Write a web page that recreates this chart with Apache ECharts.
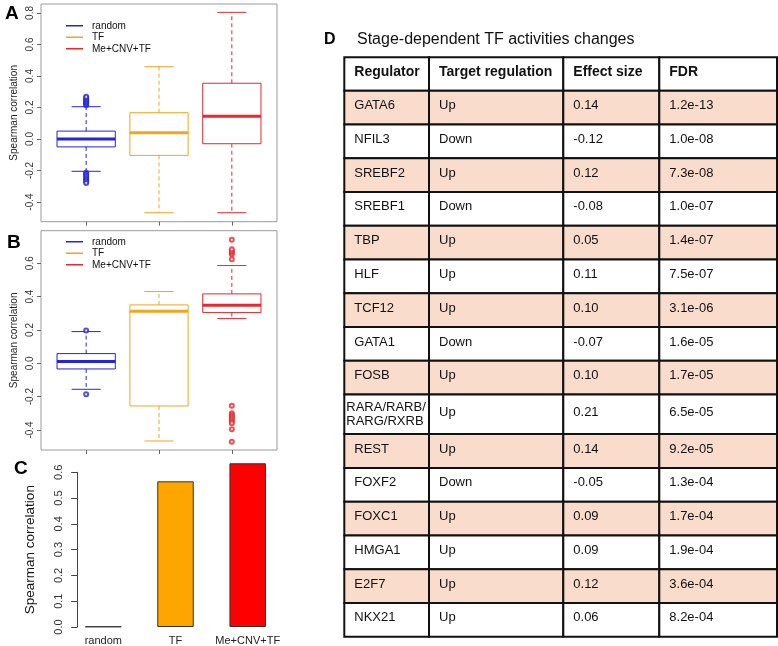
<!DOCTYPE html>
<html>
<head>
<meta charset="utf-8">
<script src="https://cdn.jsdelivr.net/npm/echarts@6/dist/echarts.min.js"></script>
<style>
html,body{margin:0;padding:0;background:#fff;}
#chart{width:778px;height:646px;}
</style>
</head>
<body>
<div id="chart"></div>
<script>
// ---------------- data ----------------
const groups = ['random', 'TF', 'Me+CNV+TF'];

// box statistics [lower whisker, Q1, median, Q3, upper whisker]
const statsA = [
  [-0.205, -0.05, 0.0, 0.05, 0.205],
  [-0.468, -0.104, 0.04, 0.167, 0.459],
  [-0.468, -0.03, 0.144, 0.354, 0.804]
];
const outliersA = [
  [0.215, 0.222, 0.23, 0.237, 0.245, 0.252, 0.26, 0.268, -0.215, -0.222, -0.23, -0.24, -0.25, -0.26, -0.27, -0.28],
  [],
  []
];
const statsB = [
  [-0.156, -0.034, 0.01, 0.058, 0.19],
  [-0.466, -0.256, 0.312, 0.35, 0.43],
  [0.268, 0.304, 0.348, 0.416, 0.586]
];
const outliersB = [
  [0.197, -0.185],
  [],
  [0.624, 0.654, 0.664, 0.674, 0.684, 0.74, -0.255, -0.30, -0.31, -0.32, -0.33, -0.34, -0.35, -0.36, -0.395, -0.47]
];
const ticksA = [-0.4, -0.2, 0.0, 0.2, 0.4, 0.6, 0.8];
const ticksB = [-0.4, -0.2, 0.0, 0.2, 0.4, 0.6];

// panel C
const barValues = [0.002, 0.565, 0.635];
const ticksC = [0.0, 0.1, 0.2, 0.3, 0.4, 0.5, 0.6];

// panel D table
const tableHeaders = ['Regulator', 'Target regulation', 'Effect size', 'FDR'];
const regulators = ['GATA6', 'NFIL3', 'SREBF2', 'SREBF1', 'TBP', 'HLF', 'TCF12', 'GATA1', 'FOSB',
  'RARA/RARB/\nRARG/RXRB', 'REST', 'FOXF2', 'FOXC1', 'HMGA1', 'E2F7', 'NKX21'];
const targetRegulation = ['Up', 'Down', 'Up', 'Down', 'Up', 'Up', 'Up', 'Down', 'Up', 'Up', 'Up', 'Down', 'Up', 'Up', 'Up', 'Up'];
const effectSize = [0.14, -0.12, 0.12, -0.08, 0.05, 0.11, 0.10, -0.07, 0.10, 0.21, 0.14, -0.05, 0.09, 0.09, 0.12, 0.06];
const fdr = ['1.2e-13', '1.0e-08', '7.3e-08', '1.0e-07', '1.4e-07', '7.5e-07', '3.1e-06', '1.6e-05', '1.7e-05',
  '6.5e-05', '9.2e-05', '1.3e-04', '1.7e-04', '1.9e-04', '3.6e-04', '8.2e-04'];

// ---------------- styling ----------------
const FONT = '"Liberation Sans", Arial, Helvetica, sans-serif';
const colors = ['#2424dc', '#f5a41e', '#e8282c'];
const barColors = ['#ffffff', '#ffa500', '#ff0000'];

function boxRender(color) {
  return function (params, api) {
    const x = api.value(0);
    const mn = api.value(1), q1 = api.value(2), md = api.value(3), q3 = api.value(4), mx = api.value(5);
    const cx = api.coord([x, md])[0];
    const hw = api.size([0.4, 0])[0];
    const cw = api.size([0.2, 0])[0];
    const yMn = api.coord([x, mn])[1], yQ1 = api.coord([x, q1])[1], yMd = api.coord([x, md])[1];
    const yQ3 = api.coord([x, q3])[1], yMx = api.coord([x, mx])[1];
    const dash = { stroke: color, lineWidth: 1, lineDash: [4, 3] };
    const solid = { stroke: color, lineWidth: 1 };
    return {
      type: 'group',
      children: [
        { type: 'line', shape: { x1: cx, y1: yQ3, x2: cx, y2: yMx }, style: dash },
        { type: 'line', shape: { x1: cx, y1: yQ1, x2: cx, y2: yMn }, style: dash },
        { type: 'line', shape: { x1: cx - cw, y1: yMx, x2: cx + cw, y2: yMx }, style: solid },
        { type: 'line', shape: { x1: cx - cw, y1: yMn, x2: cx + cw, y2: yMn }, style: solid },
        { type: 'rect', shape: { x: cx - hw, y: yQ3, width: 2 * hw, height: yQ1 - yQ3 }, style: { fill: 'rgba(255,255,255,0)', stroke: color, lineWidth: 1 } },
        { type: 'line', shape: { x1: cx - hw, y1: yMd, x2: cx + hw, y2: yMd }, style: { stroke: color, lineWidth: 3 } }
      ]
    };
  };
}

function boxPanelSeries(stats, outs, gi) {
  const s = [];
  groups.forEach(function (g, i) {
    s.push({
      type: 'custom', name: g, xAxisIndex: gi, yAxisIndex: gi,
      itemStyle: { color: colors[i] },
      renderItem: boxRender(colors[i]),
      encode: { x: 0, y: [1, 2, 3, 4, 5] },
      data: [[i + 1].concat(stats[i])],
      silent: true
    });
    s.push({
      type: 'scatter', name: g + ' outliers', xAxisIndex: gi, yAxisIndex: gi,
      symbol: 'emptyCircle', symbolSize: 4,
      itemStyle: { color: colors[i], borderColor: colors[i], borderWidth: 1 },
      data: outs[i].map(function (v) { return [i + 1, v]; }),
      silent: true
    });
  });
  return s;
}

function boxY(gi, min, max, ticks) {
  return {
    type: 'value', gridIndex: gi, min: min, max: max,
    name: 'Spearman correlation', nameLocation: 'middle', nameGap: 22,
    nameTextStyle: { fontSize: 10, color: '#222', fontFamily: FONT },
    axisLine: { show: false, onZero: false },
    axisTick: { show: true, length: 4, customValues: ticks, lineStyle: { color: '#666' } },
    axisLabel: { customValues: ticks, rotate: 90, margin: 6, fontSize: 10, color: '#333', fontFamily: FONT,
      formatter: function (v) { return v.toFixed(1); } },
    splitLine: { show: false }
  };
}
function boxX(gi) {
  return {
    type: 'value', gridIndex: gi, min: 0.38, max: 3.62, position: 'bottom',
    axisLine: { show: false, onZero: false },
    axisTick: { show: true, length: 4, customValues: [1, 2, 3], lineStyle: { color: '#666' } },
    axisLabel: { show: false },
    splitLine: { show: false }
  };
}

// table layout
const colW = [84.7, 134.3, 96, 117.7];
const colStart = [];
colW.reduce(function (a, w, i) { colStart[i] = a; return a + w; }, 0);
const totalW = colW.reduce(function (a, b) { return a + b; }, 0);
const rowH = [0.99].concat(regulators.map(function (r) { return r.indexOf('\n') >= 0 ? 1.17 : 1; }));
const rowStart = [];
rowH.reduce(function (a, h, i) { rowStart[i] = a; return a + h; }, 0);
const totalH = rowH.reduce(function (a, b) { return a + b; }, 0);

function cellText(c, r) {
  if (c === 0) return regulators[r];
  if (c === 1) return targetRegulation[r];
  if (c === 2) return effectSize[r].toFixed(2);
  return fdr[r];
}
const tableCells = [];
for (let r = 0; r <= regulators.length; r++) {
  for (let c = 0; c < tableHeaders.length; c++) tableCells.push([c, r]);
}
function tableRender(params, api) {
  const c = api.value(0), r = api.value(1);
  const p0 = api.coord([colStart[c], rowStart[r]]);
  const p1 = api.coord([colStart[c] + colW[c], rowStart[r] + rowH[r]]);
  const shaded = r > 0 && (r - 1) % 2 === 0;
  const text = r === 0 ? tableHeaders[c] : cellText(c, r - 1);
  const multi = text.indexOf('\n') >= 0;
  return {
    type: 'group',
    children: [
      { type: 'rect', shape: { x: p0[0], y: p0[1], width: p1[0] - p0[0], height: p1[1] - p0[1] },
        style: { fill: shaded ? '#f9dccb' : '#ffffff', stroke: '#111', lineWidth: 2 } },
      { type: 'text', style: { text: text, x: p0[0] + (multi ? 2 : 10), y: (p0[1] + p1[1]) / 2 - (multi ? 0 : 2),
          verticalAlign: 'middle', align: 'left', lineHeight: 14,
          font: (r === 0 ? 'bold 14px ' : '13px ') + FONT, fill: '#111' } }
    ]
  };
}

// ---------------- option ----------------
const option = {
  animation: false,
  backgroundColor: '#ffffff',
  title: [
    { text: 'A', left: 0, top: -1, textStyle: { fontSize: 19, fontWeight: 'bold', color: '#000', fontFamily: FONT } },
    { text: 'B', left: 2, top: 228, textStyle: { fontSize: 19, fontWeight: 'bold', color: '#000', fontFamily: FONT } },
    { text: 'C', left: 9, top: 454, textStyle: { fontSize: 19, fontWeight: 'bold', color: '#000', fontFamily: FONT } },
    { text: 'D', left: 319, top: 27, textStyle: { fontSize: 16, fontWeight: 'bold', color: '#000', fontFamily: FONT } },
    { text: 'Stage-dependent TF activities changes', left: 352, top: 27, textStyle: { fontSize: 16, fontWeight: 'normal', color: '#111', fontFamily: FONT } }
  ],
  legend: [
    { data: groups, left: 66, top: 20, orient: 'vertical', icon: 'rect', itemWidth: 17, itemHeight: 1.5, itemGap: 0, padding: 0,
      selectedMode: false, textStyle: { fontSize: 10, color: '#111', fontFamily: FONT, lineHeight: 11.5, padding: [0, 0, 0, 4] } },
    { data: groups, left: 66, top: 236, orient: 'vertical', icon: 'rect', itemWidth: 17, itemHeight: 1.5, itemGap: 0, padding: 0,
      selectedMode: false, textStyle: { fontSize: 10, color: '#111', fontFamily: FONT, lineHeight: 11.5, padding: [0, 0, 0, 4] } }
  ],
  grid: [
    { left: 41, top: 4, width: 236, height: 217.7, show: true, borderColor: '#9a9a9a', borderWidth: 1, backgroundColor: 'transparent' },
    { left: 41, top: 230.7, width: 236, height: 219.3, show: true, borderColor: '#9a9a9a', borderWidth: 1, backgroundColor: 'transparent' },
    { left: 67.2, top: 472.3, width: 216.6, height: 156 },
    { left: 344.3, top: 57.3, width: totalW, height: 579.4 }
  ],
  xAxis: [
    boxX(0),
    boxX(1),
    { type: 'category', gridIndex: 2, data: groups,
      axisLine: { show: false, onZero: false }, axisTick: { show: false },
      axisLabel: { interval: 0, hideOverlap: false, fontSize: 11, color: '#222', margin: 8, fontFamily: FONT } },
    { type: 'value', gridIndex: 3, min: 0, max: totalW, show: false }
  ],
  yAxis: [
    boxY(0, -0.525, 0.857, ticksA),
    boxY(1, -0.52, 0.795, ticksB),
    { type: 'value', gridIndex: 2, min: 0, max: 0.6, offset: -10,
      name: 'Spearman correlation', nameLocation: 'middle', nameGap: 40,
      nameTextStyle: { fontSize: 13.5, color: '#111', fontFamily: FONT },
      axisLine: { show: true, lineStyle: { color: '#444', width: 1 } },
      axisTick: { show: true, length: 6, customValues: ticksC, lineStyle: { color: '#444' } },
      axisLabel: { customValues: ticksC, rotate: 90, margin: 13, fontSize: 11, color: '#333', fontFamily: FONT,
        formatter: function (v) { return v.toFixed(1); } },
      splitLine: { show: false } },
    { type: 'value', gridIndex: 3, min: 0, max: totalH, inverse: true, show: false }
  ],
  series: [].concat(
    boxPanelSeries(statsA, outliersA, 0),
    boxPanelSeries(statsB, outliersB, 1),
    [{
      type: 'bar', xAxisIndex: 2, yAxisIndex: 2, barWidth: 36.5, clip: false, silent: true,
      data: barValues.map(function (v, i) {
        return { value: v, itemStyle: { color: barColors[i], borderColor: '#333', borderWidth: 1 } };
      })
    }, {
      type: 'custom', xAxisIndex: 3, yAxisIndex: 3, silent: true, clip: false,
      renderItem: tableRender,
      encode: { x: 0, y: 1 },
      data: tableCells
    }]
  )
};

const chart = echarts.init(document.getElementById('chart'), null, { renderer: 'canvas' });
chart.setOption(option);
</script>
</body>
</html>
